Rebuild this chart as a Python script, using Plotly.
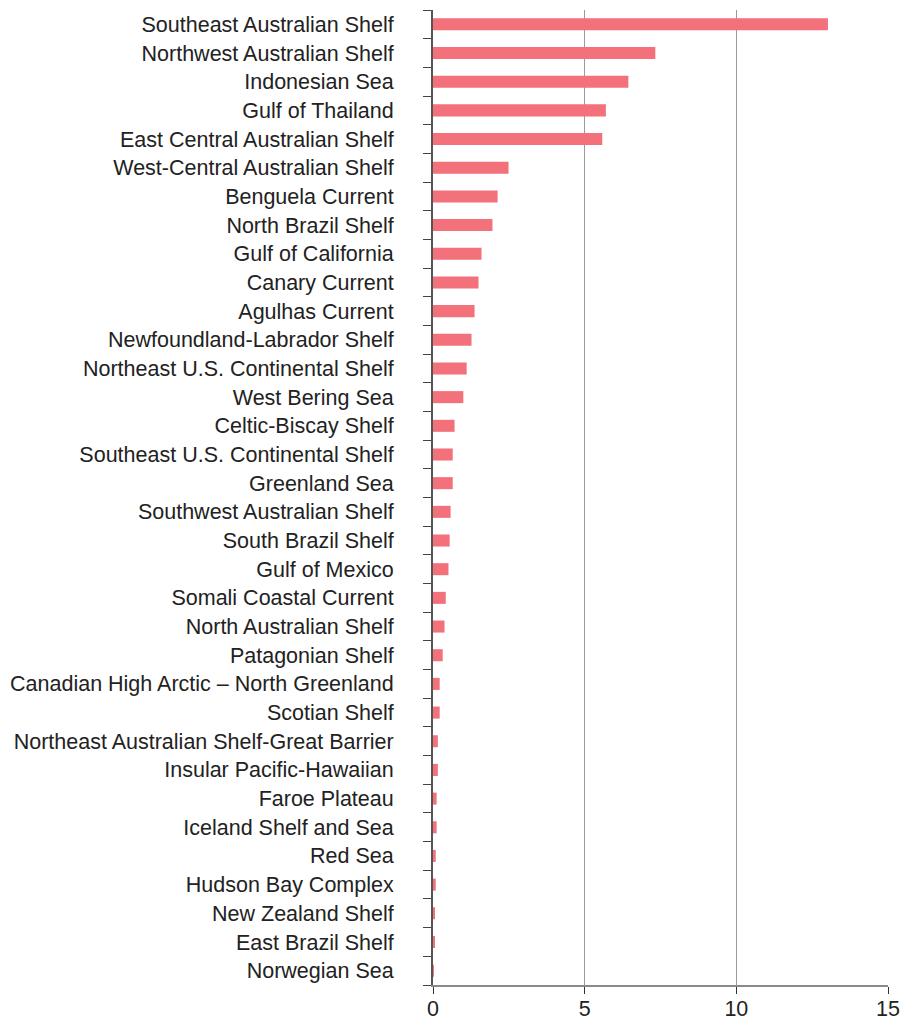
import plotly.graph_objects as go

regions = [
    "Southeast Australian Shelf", "Northwest Australian Shelf", "Indonesian Sea",
    "Gulf of Thailand", "East Central Australian Shelf", "West-Central Australian Shelf",
    "Benguela Current", "North Brazil Shelf", "Gulf of California", "Canary Current",
    "Agulhas Current", "Newfoundland-Labrador Shelf", "Northeast U.S. Continental Shelf",
    "West Bering Sea", "Celtic-Biscay Shelf", "Southeast U.S. Continental Shelf",
    "Greenland Sea", "Southwest Australian Shelf", "South Brazil Shelf", "Gulf of Mexico",
    "Somali Coastal Current", "North Australian Shelf", "Patagonian Shelf",
    "Canadian High Arctic – North Greenland", "Scotian Shelf",
    "Northeast Australian Shelf-Great Barrier", "Insular Pacific-Hawaiian", "Faroe Plateau",
    "Iceland Shelf and Sea", "Red Sea", "Hudson Bay Complex", "New Zealand Shelf",
    "East Brazil Shelf", "Norwegian Sea",
]
values = [
    13.02, 7.33, 6.44, 5.70, 5.58, 2.49, 2.13, 1.96, 1.60, 1.50,
    1.37, 1.27, 1.11, 1.00, 0.71, 0.65, 0.65, 0.58, 0.55, 0.51,
    0.42, 0.38, 0.32, 0.22, 0.22, 0.16, 0.16, 0.12, 0.12, 0.09,
    0.09, 0.05, 0.04, 0.03,
]
x_ticks = [0, 5, 10, 15]

fig = go.Figure(
    go.Bar(
        x=values,
        y=regions,
        orientation="h",
        marker=dict(color="#F2717A", line=dict(width=0)),
        width=0.42,
    )
)

fig.update_layout(
    width=901,
    height=1021,
    margin=dict(l=433, r=13, t=10, b=36, autoexpand=False),
    paper_bgcolor="white",
    plot_bgcolor="white",
    showlegend=False,
    font=dict(family="Liberation Sans, Arial, sans-serif", size=21.5, color="#222222"),
)

fig.update_xaxes(
    range=[0, 15],
    tickvals=x_ticks,
    ticktext=[str(t) for t in x_ticks],
    automargin=False,
    showgrid=True,
    gridcolor="#9a9a9a",
    gridwidth=1,
    zeroline=False,
    showline=True,
    linecolor="#8a8a8a",
    linewidth=2,
    ticks="outside",
    ticklen=7,
    tickcolor="#333333",
    ticklabelstandoff=-4,
    tickfont=dict(size=21.5, color="#222222"),
)

fig.update_yaxes(
    categoryorder="array",
    categoryarray=regions[::-1],
    automargin=False,
    showgrid=False,
    zeroline=False,
    showline=True,
    linecolor="#555555",
    linewidth=2,
    ticks="outside",
    tickson="boundaries",
    ticklen=8,
    tickcolor="#444444",
    ticklabelstandoff=33,
    tickfont=dict(size=21.5, color="#222222"),
)

fig.write_html("out.html")
